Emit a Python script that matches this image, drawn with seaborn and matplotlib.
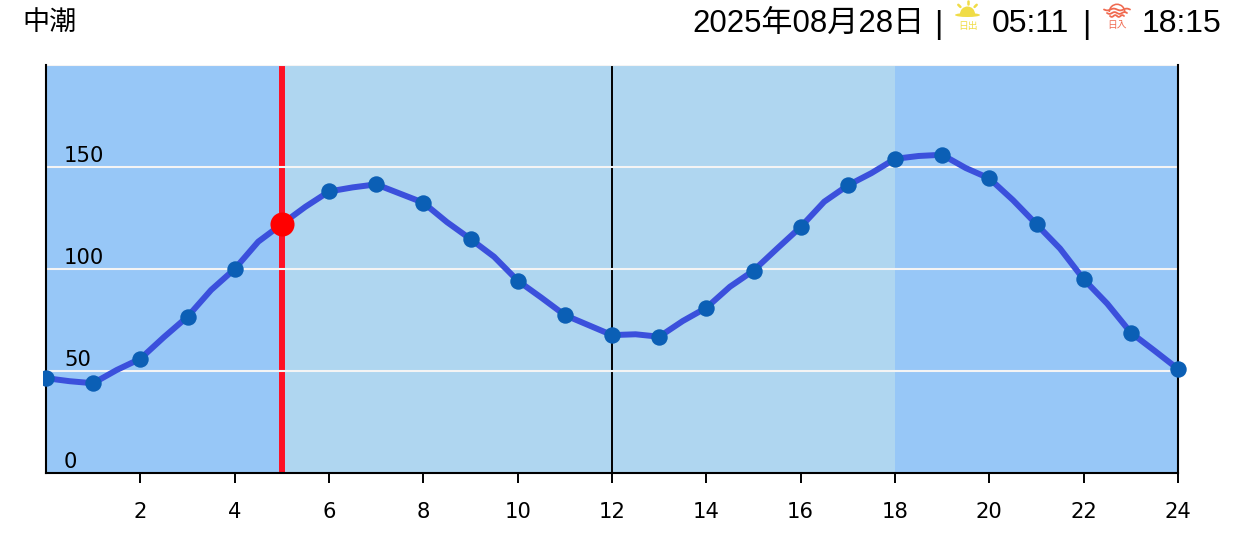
import matplotlib
matplotlib.use("Agg")
import matplotlib.pyplot as plt
import seaborn as sns
import pandas as pd
import numpy as np
from matplotlib.patches import Wedge, Ellipse, Rectangle

# hourly tide heights
hours = list(range(25))
tide = [46.5, 44, 56, 76.6, 100, 122, 138, 141.5, 132.5, 114.7, 94.3, 77.4, 67.6, 66.8,
        81, 99.2, 120.6, 141, 154, 156, 144.4, 121.9, 95, 68.8, 51]
# half hour values
half_hours = [h + 0.5 for h in range(24)]
tide_half = [45, 50.5, 66.6, 89.7, 113.4, 130.5, 140, 137, 123, 106, 86, 72.5, 68, 74.5,
             91.3, 110, 133, 147, 155.4, 149.5, 133.8, 110, 83, 60]
now_hour = 5
now_tide = 122
night_end = 5
night_start = 18
y_ticks = [0, 50, 100, 150]
x_ticks = list(range(2, 25, 2))

W, H = 1237, 534
sns.set_theme(style="white")
plt.rcParams["font.family"] = ["DejaVu Sans"]
cjk = ["Liberation Sans", "Noto Sans CJK JP"]

fig = plt.figure(figsize=(W / 100, H / 100), dpi=100)
ax = fig.add_axes([46 / W, 1 - 473 / H, (1178 - 46) / W, (473 - 65) / H])
ax.set_xlim(0, 24)
ax.set_ylim(0, 200)

# day and night bands
ax.set_facecolor("#AFD6F0")
ax.axvspan(0, night_end, color="#97C7F7", lw=0, zorder=0)
ax.axvspan(night_start, 24, color="#97C7F7", lw=0, zorder=0)
for v in [50, 100, 150, 200]:
    ax.axhline(v, color="#F4F4F4", lw=1.5, zorder=3)
ax.axvline(12, color="black", lw=1.4, zorder=1)
ax.axvline(now_hour, color="#FF1024", lw=4.3, zorder=2)

# tide line
df_hour = pd.DataFrame({"hour": hours, "tide": tide})
df_half = pd.DataFrame({"hour": half_hours, "tide": tide_half})
df_line = pd.concat([df_hour, df_half]).sort_values("hour")
sns.lineplot(data=df_line, x="hour", y="tide", color="#3B50DC", lw=4.3, ax=ax, zorder=5,
             solid_joinstyle="round", estimator=None)
sns.scatterplot(data=df_hour, x="hour", y="tide", color="#0B5FB5", s=140, linewidth=0, ax=ax, zorder=6)
# dots run past the right edge but are cut just left of the left one
dots = ax.collections[-1]
dots.set_clip_path(Rectangle((43, 0), 1160, H, transform=None))
ax.scatter([now_hour], [now_tide], color="#FF0000", s=300, linewidth=0, zorder=7)

for v in y_ticks:
    ax.annotate(str(v), (0, v), xytext=(18 / 1.39, 1), textcoords="offset points",
                fontsize=15.2, color="black", va="bottom", ha="left", zorder=8)

ax.set_xticks(x_ticks)
ax.set_xticklabels([str(v) for v in x_ticks], fontsize=15.2, color="black")
ax.set_yticks([])
ax.set_xlabel("")
ax.set_ylabel("")
ax.tick_params(axis="x", length=7.2, width=1.4, color="black", pad=14, bottom=True)
for side in ["left", "right", "bottom"]:
    ax.spines[side].set_color("black")
    ax.spines[side].set_linewidth(1.5)
    ax.spines[side].set_zorder(4)
ax.spines["top"].set_visible(False)

# header, drawn on a pixel overlay
top = fig.add_axes([0, 0, 1, 1], zorder=10)
top.set_xlim(0, W)
top.set_ylim(H, 0)
top.axis("off")
top.patch.set_alpha(0)
top.text(22, 23, "中潮", fontsize=19.5, family=cjk, va="center", ha="left", color="black")
top.text(692, 24, "2025年08月28日", fontsize=22.4, family=cjk, va="center", ha="left", color="black")
top.text(938, 25, "|", fontsize=23, family=cjk, va="center", ha="center", color="black")
top.text(992, 24, "05:11", fontsize=23, family=cjk, va="center", ha="left", color="black")
top.text(1086, 25, "|", fontsize=23, family=cjk, va="center", ha="center", color="black")
top.text(1142, 24, "18:15", fontsize=23, family=cjk, va="center", ha="left", color="black")

# sunrise icon
sun = "#F0DC46"
top.add_patch(Wedge((967.5, 14), 7.5, 180, 360, color=sun, lw=0))
top.add_patch(Ellipse((967.5, 15), 25, 4, color=sun, lw=0))
for a in [-90, -135, -45]:
    r = np.radians(a)
    top.plot([967.5 + 10 * np.cos(r), 967.5 + 13 * np.cos(r)], [14 + 10 * np.sin(r), 14 + 13 * np.sin(r)],
             color=sun, lw=1.8, solid_capstyle="round")
top.text(967.5, 26, "日出", fontsize=7, family=["Noto Sans CJK JP"], color=sun, va="center", ha="center")

# sunset icon
dusk = "#F06A50"
top.add_patch(Wedge((1117, 12), 8.5, 180, 360, width=1.6, color=dusk, lw=0))
for yy, x0, x1 in [(9.5, 1104, 1130), (13, 1107, 1127), (16, 1110, 1124)]:
    xs = np.linspace(x0, x1, 30)
    top.plot(xs, yy + 0.9 * np.sin((xs - x0) / (x1 - x0) * 4 * np.pi), color=dusk, lw=1.3)
top.text(1117, 25, "日入", fontsize=7, family=["Noto Sans CJK JP"], color=dusk, va="center", ha="center")

fig.savefig("out.png", dpi=100)
